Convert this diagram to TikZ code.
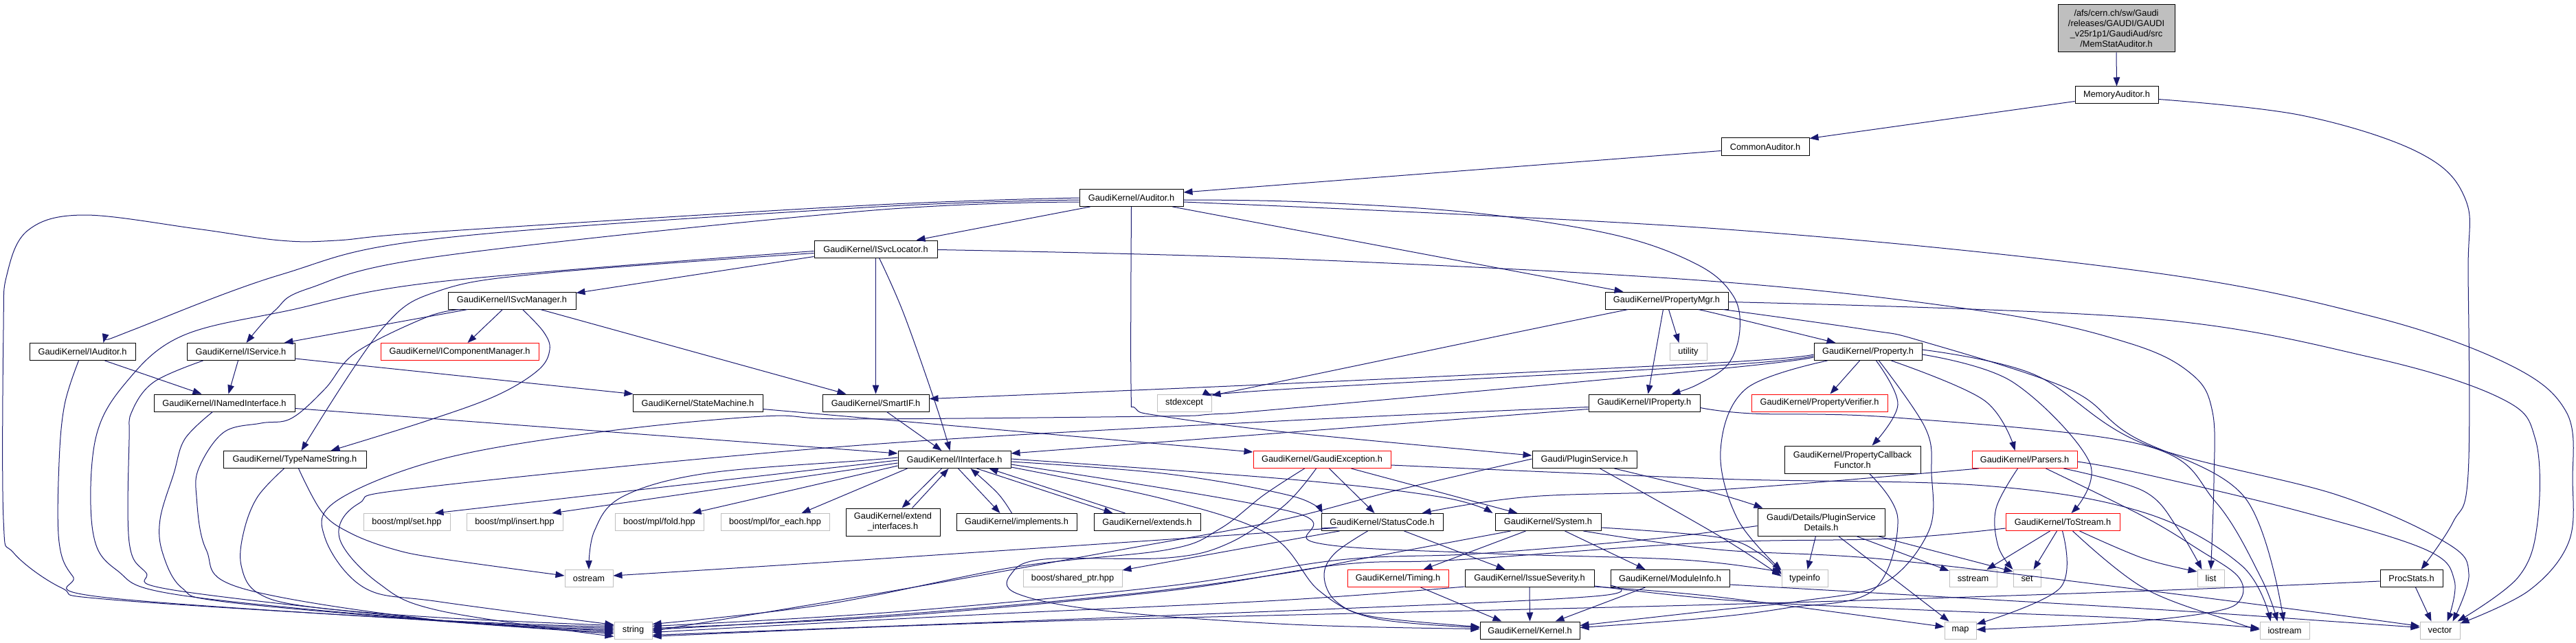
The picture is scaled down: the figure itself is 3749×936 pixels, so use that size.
\documentclass[tikz,border=0pt]{standalone}
\usepackage{fontspec}
\setmainfont{Liberation Sans}
\usetikzlibrary{arrows.meta}
\definecolor{edgec}{HTML}{191970}
\definecolor{grayb}{HTML}{BFBFBF}
\begin{document}
\begin{tikzpicture}[x=1pt,y=-1pt,
 nd/.style={draw=black,line width=1pt,fill=white,inner sep=0pt,minimum height=25pt,align=center,font=\fontsize{12.8pt}{15pt}\selectfont},
 sysn/.style={nd,draw=grayb},
 trn/.style={nd,draw=red},
 edg/.style={draw=edgec,line width=1pt,-{Triangle[length=13pt,width=9.5pt]}},
]
\fill[white] (0,0) rectangle (3749,936);
\useasboundingbox (0,0) rectangle (3749,936);
% ---------------- nodes ----------------
\node[nd,minimum width=170pt,minimum height=69pt,fill=grayb] (root) at (3080,41.5) {/afs/cern.ch/sw/Gaudi\\/releases/GAUDI/GAUDI\\\_v25r1p1/GaudiAud/src\\/MemStatAuditor.h};
\node[nd,minimum width=121pt] (MemA) at (3080.5,138.5) {MemoryAuditor.h};
\node[nd,minimum width=128pt] (ComA) at (2569,213.5) {CommonAuditor.h};
\node[nd,minimum width=151pt] (Aud) at (1646.5,288) {GaudiKernel/Auditor.h};
\node[nd,minimum width=179pt] (ISL) at (1274.5,362.5) {GaudiKernel/ISvcLocator.h};
\node[nd,minimum width=179pt] (PMgr) at (2425.5,437.5) {GaudiKernel/PropertyMgr.h};
\node[nd,minimum width=186pt] (ISM) at (745,437.5) {GaudiKernel/ISvcManager.h};
\node[nd,minimum width=154pt] (IAud) at (120,512) {GaudiKernel/IAuditor.h};
\node[nd,minimum width=157pt] (ISrv) at (350.5,512) {GaudiKernel/IService.h};
\node[trn,minimum width=230pt] (ICM) at (669,512) {GaudiKernel/IComponentManager.h};
\node[sysn,minimum width=54pt] (util) at (2457,512) {utility};
\node[nd,minimum width=157pt] (Prop) at (2718.5,512) {GaudiKernel/Property.h};
\node[nd,minimum width=205pt] (INI) at (326.5,586.5) {GaudiKernel/INamedInterface.h};
\node[nd,minimum width=189pt] (SM) at (1015.5,586.5) {GaudiKernel/StateMachine.h};
\node[nd,minimum width=155pt] (SIF) at (1274.5,586.5) {GaudiKernel/SmartIF.h};
\node[sysn,minimum width=79pt] (stdexc) at (1723.5,586.5) {stdexcept};
\node[nd,minimum width=162pt] (IProp) at (2393,586.5) {GaudiKernel/IProperty.h};
\node[trn,minimum width=198pt] (PVer) at (2648,586.5) {GaudiKernel/PropertyVerifier.h};
\node[nd,minimum width=208pt] (TNS) at (429,669) {GaudiKernel/TypeNameString.h};
\node[nd,minimum width=164pt] (IInt) at (1389,669) {GaudiKernel/IInterface.h};
\node[trn,minimum width=200pt] (GExc) at (1924,669) {GaudiKernel/GaudiException.h};
\node[nd,minimum width=152pt] (PSvc) at (2306,669) {Gaudi/PluginService.h};
\node[nd,minimum width=198pt,minimum height=40pt] (PCF) at (2696,669) {GaudiKernel/PropertyCallback\\Functor.h};
\node[trn,minimum width=153pt] (Pars) at (2946.5,669) {GaudiKernel/Parsers.h};
\node[sysn,minimum width=126pt] (bset) at (592,760) {boost/mpl/set.hpp};
\node[sysn,minimum width=140pt] (bins) at (749,760) {boost/mpl/insert.hpp};
\node[sysn,minimum width=129pt] (bfold) at (959.5,760) {boost/mpl/fold.hpp};
\node[sysn,minimum width=158pt] (bfe) at (1128,760) {boost/mpl/for\_each.hpp};
\node[nd,minimum width=137pt,minimum height=40pt] (extif) at (1299.5,760) {GaudiKernel/extend\\\_interfaces.h};
\node[nd,minimum width=175pt] (impl) at (1479.5,760) {GaudiKernel/implements.h};
\node[nd,minimum width=155pt] (exts) at (1669.5,760) {GaudiKernel/extends.h};
\node[nd,minimum width=177pt] (SC) at (2011.5,760) {GaudiKernel/StatusCode.h};
\node[nd,minimum width=154pt] (Sys) at (2253,760) {GaudiKernel/System.h};
\node[nd,minimum width=185pt,minimum height=40pt] (psd) at (2650.5,760) {Gaudi/Details/PluginService\\Details.h};
\node[trn,minimum width=166pt] (TS) at (3002,760) {GaudiKernel/ToStream.h};
\node[sysn,minimum width=70pt] (ostr) at (857,842) {ostream};
\node[sysn,minimum width=144pt] (bsh) at (1561,842) {boost/shared\_ptr.hpp};
\node[trn,minimum width=147pt] (Tim) at (2034.5,842) {GaudiKernel/Timing.h};
\node[nd,minimum width=188pt] (ISev) at (2226,842) {GaudiKernel/IssueSeverity.h};
\node[nd,minimum width=173pt] (MInfo) at (2430.5,842) {GaudiKernel/ModuleInfo.h};
\node[sysn,minimum width=67pt] (tinfo) at (2626.5,842) {typeinfo};
\node[sysn,minimum width=69pt] (sst) at (2871.5,842) {sstream};
\node[sysn,minimum width=40pt] (sset) at (2950,842) {set};
\node[sysn,minimum width=39pt] (lst) at (3217.5,842) {list};
\node[nd,minimum width=91pt] (PStat) at (3509.5,842) {ProcStats.h};
\node[sysn,minimum width=55pt] (str) at (921.5,917.5) {string};
\node[nd,minimum width=145pt] (Kern) at (2226.5,917.5) {GaudiKernel/Kernel.h};
\node[sysn,minimum width=46pt] (mp) at (2853,917.5) {map};
\node[sysn,minimum width=72pt] (ios) at (3325,917.5) {iostream};
\node[sysn,minimum width=58pt] (vec) at (3551,917.5) {vector};
% ---------------- edges ----------------
\draw[edg] (root.south) -- (MemA.north);
\draw[edg] ([yshift=-22]MemA.north west) -- ([yshift=-1]ComA.north east);
\draw[edg] plot[smooth,tension=0.6] coordinates {([yshift=-19]MemA.north east) (3350,168) (3520,222) (3588,290) (3592,400) (3592,690) (3570,760) ([xshift=60]PStat.north west)};
\draw[edg] ([yshift=-19]ComA.north west) -- ([yshift=-5]Aud.north east);
\draw[edg] ([xshift=16]Aud.south west) -- ([xshift=149]ISL.north west);
\draw[edg] ([xshift=136]Aud.south west) -- ([xshift=27]PMgr.north west);
\draw[edg] plot[smooth,tension=0.6] coordinates {([yshift=-16]Aud.north east) (1900,294) (2146,310) (2350,342) (2470,385) (2522,430) (2532,480) (2515,530) (2470,560) ([xshift=121]IProp.north west)};
\draw[edg] plot[smooth,tension=0.6] coordinates {([yshift=-19]Aud.north east) (2500,333) (3120,395) (3450,460) (3650,530) (3735,600) (3744,700) (3738,790) (3680,860) ([yshift=-3]vec.north east)};
\draw[edg] plot[smooth,tension=0.6] coordinates {(Aud.south) (1646,560) (1652,594) (1692,606) (1880,630) ([yshift=-7]PSvc.north west)};
\draw[edg] plot[smooth,tension=0.6] coordinates {([yshift=-16]Aud.north west) (1260,302) (640,347) (408,400) (194,480) ([xshift=108]IAud.north west)};
\draw[edg] plot[smooth,tension=0.6] coordinates {([yshift=-19]Aud.north west) (1260,307) (640,373) (449,420) (400,452) ([xshift=87]ISrv.north west)};
\draw[edg] plot[smooth,tension=0.6] coordinates {(Aud.west) (1260,299) (640,337) (490,350) (408,350) (286,333) (122,313) (41,335) (10,400) (5,480) (5,756) (20,805) (90,856) (163,873) (640,903) ([yshift=-8]str.north west)};
% ISvcLocator
\draw[edg] ([yshift=-24]ISL.north west) -- ([yshift=-2]ISM.north east);
\draw[edg] (ISL.south) -- (SIF.north);
\draw[edg] plot[smooth,tension=0.6] coordinates {([xshift=95]ISL.south west) (1315,456) (1362,589) ([xshift=76]IInt.north west)};
\draw[edg] plot[smooth,tension=0.6] coordinates {([yshift=-14]ISL.north east) (1880,377) (2500,410) (2900,455) (3100,500) (3190,545) (3220,600) (3222,700) (lst.north)};
\draw[edg] plot[smooth,tension=0.6] coordinates {([yshift=-16]ISL.north west) (640,410) (420,452) (265,489) (184,556) (139,639) (135,773) (170,830) (260,866) (640,903) ([yshift=-10]str.north west)};
\draw[edg] plot[smooth,tension=0.6] coordinates {([yshift=-19]ISL.north west) (800,397) (640,423) (555,480) ([xshift=114]TNS.north west)};
% ISvcManager
\draw[edg] ([xshift=29]ISM.south west) -- ([xshift=142]ISrv.north west);
\draw[edg] ([xshift=80]ISM.south west) -- ([xshift=127]ICM.north west);
\draw[edg] plot[smooth,tension=0.6] coordinates {([xshift=109]ISM.south west) (791,483) (800,509) (783,539) (722,576) (620,613) ([xshift=157]TNS.north west)};
\draw[edg] ([xshift=135]ISM.south west) -- ([xshift=35]SIF.north west);
\draw[edg] plot[smooth,tension=0.6] coordinates {([xshift=18]ISM.south west) (620,462) (518,513) (473,566) (424,609) (380,616) (326,629) (290,680) (286,723) (300,800) (351,856) (640,903) ([yshift=-12]str.north west)};
% IAuditor, IService, INamedInterface, TypeNameString
\draw[edg] ([xshift=110]IAud.south west) -- ([xshift=70]INI.north west);
\draw[edg] plot[smooth,tension=0.6] coordinates {([xshift=72]IAud.south west) (94,589) (86,673) (86,789) (106,839) (147,869) (640,904) ([yshift=-14]str.north west)};
\draw[edg] ([xshift=75]ISrv.south west) -- ([xshift=109]INI.north west);
\draw[edg] ([yshift=-23]ISrv.north east) -- ([xshift=1]SM.north west);
\draw[edg] plot[smooth,tension=0.6] coordinates {([xshift=24]ISrv.south west) (224,556) (192,599) (188,640) (188,789) (212,833) (253,859) (640,903) ([yshift=-16]str.north west)};
\draw[edg] ([yshift=-21]INI.north east) -- ([yshift=-4]IInt.north west);
\draw[edg] plot[smooth,tension=0.6] coordinates {([xshift=86]INI.south west) (269,639) (253,689) (233,756) (237,806) (265,856) (327,876) (640,904) ([yshift=-18]str.north west)};
\draw[edg] plot[smooth,tension=0.6] coordinates {([xshift=89]TNS.south west) (375,723) (355,773) (351,823) (375,863) (449,883) (640,899) ([yshift=-6]str.north west)};
\draw[edg] plot[smooth,tension=0.6] coordinates {([xshift=110]TNS.south west) (469,746) (510,776) (571,799) (640,813) ([yshift=-9]ostr.north west)};
% StateMachine, SmartIF
\draw[edg] ([yshift=-22]SM.north east) -- ([yshift=-2]GExc.north west);
\draw[edg] ([xshift=94]SIF.south west) -- ([xshift=64]IInt.north west);
% IInterface
\draw[edg] ([yshift=-14]IInt.north west) -- ([xshift=104]bset.north west);
\draw[edg] ([yshift=-18]IInt.north west) -- ([xshift=125]bins.north west);
\draw[edg] ([yshift=-22]IInt.north west) -- ([xshift=113]bfold.north west);
\draw[edg] ([xshift=14]IInt.south west) -- ([xshift=118]bfe.north west);
\draw[edg] plot[smooth,tension=0.6] coordinates {([yshift=-10]IInt.north west) (1260,670) (1028,689) (906,723) (865,773) (ostr.north)};
\draw[edg] ([xshift=64]IInt.south west) -- ([xshift=82]extif.north west);
\draw[edg] ([xshift=97]extif.north west) -- ([xshift=74]IInt.south west);
\draw[edg] ([xshift=88]IInt.south west) -- ([xshift=64]impl.north west);
\draw[edg] plot[smooth,tension=0.6] coordinates {([xshift=81]impl.north west) (1452,718) ([xshift=106]IInt.south west)};
\draw[edg] ([xshift=115]IInt.south west) -- ([xshift=28]exts.north west);
\draw[edg] ([xshift=46]exts.north west) -- ([xshift=133]IInt.south west);
\draw[edg] plot[smooth,tension=0.6] coordinates {([yshift=-16]IInt.north east) (1700,690) (1880,722) ([xshift=2]SC.north west)};
\draw[edg] plot[smooth,tension=0.6] coordinates {([yshift=-12]IInt.north east) (1880,698) (2100,724) ([xshift=-3]Sys.north west)};
\draw[edg] plot[smooth,tension=0.6] coordinates {([yshift=-24]IInt.north east) (1700,728) (1850,780) (1920,860) (2000,900) ([yshift=-9]Kern.north west)};
\draw[edg] plot[smooth,tension=0.6] coordinates {([yshift=-20]IInt.north east) (1880,745) (1915,790) (2150,805) (2450,815) ([yshift=-4]tinfo.north west)};
% GaudiException
\draw[edg] ([xshift=111]GExc.south west) -- ([xshift=78]SC.north west);
\draw[edg] ([xshift=143]GExc.south west) -- ([xshift=33]Sys.north west);
\draw[edg] plot[smooth,tension=0.6] coordinates {([xshift=75]GExc.south west) (1840,720) (1775,770) (1700,800) (1480,825) (1200,880) ([yshift=-4]str.north east)};
\draw[edg] plot[smooth,tension=0.6] coordinates {([xshift=92]GExc.south west) (1870,735) (1790,790) (1700,812) (1520,814) (1472,835) (1480,864) (1607,889) (1880,909) ([yshift=-11]Kern.north west)};
\draw[edg] plot[smooth,tension=0.6] coordinates {([yshift=-21]GExc.north east) (2500,697) (2888,707) (3120,746) (3262,823) ([xshift=16]ios.north west)};
% StatusCode
\draw[edg] ([xshift=121]SC.south west) -- ([xshift=59]ISev.north west);
\draw[edg] plot[smooth,tension=0.6] coordinates {([xshift=68]SC.south west) (1942,806) (1927,839) (1945,876) (2000,898) ([yshift=-8]Kern.north west)};
\draw[edg] plot[smooth,tension=0.6] coordinates {([yshift=-22]SC.north west) (1880,773) (1240,816) ([yshift=-9]ostr.north east)};
\draw[edg] plot[smooth,tension=0.6] coordinates {([xshift=27]SC.south west) (1860,789) ([yshift=-1]bsh.north east)};
% System
\draw[edg] ([xshift=45]Sys.south west) -- ([xshift=111]Tim.north west);
\draw[edg] ([xshift=102]Sys.south west) -- ([xshift=51]MInfo.north west);
\draw[edg] plot[smooth,tension=0.6] coordinates {([xshift=23]Sys.south west) (2000,810) (1860,836) (1640,865) (1300,895) ([yshift=-12]str.north east)};
\draw[edg] plot[smooth,tension=0.6] coordinates {([xshift=129]Sys.south west) (2500,800) (2741,814) (3120,859) (3400,895) ([yshift=-7]vec.north west)};
\draw[edg] plot[smooth,tension=0.6] coordinates {([yshift=-21]Sys.north east) (2500,782) (2560,805) ([yshift=-7]tinfo.north west)};
% Timing, IssueSeverity, ModuleInfo
\draw[edg] ([xshift=107]Tim.south west) -- ([xshift=32]Kern.north west);
\draw[edg] (ISev.south) -- (Kern.north);
\draw[edg] ([xshift=51]MInfo.south west) -- ([xshift=110]Kern.north west);
\draw[edg] plot[smooth,tension=0.6] coordinates {([yshift=-25]ISev.north west) (1860,874) (1400,896) ([yshift=-16]str.north east)};
\draw[edg] plot[smooth,tension=0.6] coordinates {([yshift=-25]ISev.north east) (2500,869) ([yshift=-8]mp.north west)};
\draw[edg] plot[smooth,tension=0.6] coordinates {([yshift=-24]ISev.north east) (2520,874) (2800,888) (3100,900) ([yshift=-10]ios.north west)};
\draw[edg] plot[smooth,tension=0.6] coordinates {([yshift=-22]MInfo.north east) (3120,886) (3400,905) ([yshift=-9]vec.north west)};
\draw[edg] plot[smooth,tension=0.6] coordinates {([yshift=-23]MInfo.north west) (2320,868) (1900,888) ([yshift=-20]str.north east)};
% ProcStats
\draw[edg] ([xshift=52]PStat.south west) -- ([xshift=17]vec.north west);
\draw[edg] plot[smooth,tension=0.6] coordinates {([yshift=-17]PStat.north west) (3100,861) (2500,880) (1500,905) ([yshift=-22]str.north east)};
% PropertyMgr
\draw[edg] ([xshift=93]PMgr.south west) -- ([xshift=14]util.north west);
\draw[edg] ([xshift=85]PMgr.south west) -- ([xshift=87]IProp.north west);
\draw[edg] plot[smooth,tension=0.6] coordinates {([xshift=136]PMgr.south west) (2500,457) (2594,480) ([xshift=32]Prop.north west)};
\draw[edg] plot[smooth,tension=0.6] coordinates {([xshift=34]PMgr.south west) (2225,480) (1860,556) ([yshift=-2]stdexc.north east)};
\draw[edg] plot[smooth,tension=0.6] coordinates {([yshift=-15]PMgr.north east) (3120,463) (3450,520) (3640,580) (3690,640) (3693,760) (3665,840) ([xshift=-4]vec.north east)};
\draw[edg] plot[smooth,tension=0.6] coordinates {([xshift=172]PMgr.south west) (2717,480) (2798,497) (3010,566) (3100,633) (3266,723) ([xshift=35]ios.north west)};
% Property
\draw[edg] ([xshift=67]Prop.south west) -- ([xshift=115]PVer.north west);
\draw[edg] plot[smooth,tension=0.6] coordinates {([xshift=91]Prop.south west) (2762,589) ([xshift=128]PCF.north west)};
\draw[edg] plot[smooth,tension=0.6] coordinates {([xshift=113]Prop.south west) (2888,583) ([xshift=63]Pars.north west)};
\draw[edg] plot[smooth,tension=0.6] coordinates {([yshift=-17]Prop.north east) (2929,556) (3041,673) ([xshift=96]TS.north west)};
\draw[edg] plot[smooth,tension=0.6] coordinates {([yshift=-17]Prop.north west) (2500,528) (1880,558) ([yshift=-7]SIF.north east)};
\draw[edg] plot[smooth,tension=0.6] coordinates {([yshift=-19]Prop.north west) (2500,532) (1880,566) ([yshift=-3]stdexc.north east)};
\draw[edg] plot[smooth,tension=0.6] coordinates {([yshift=-21]Prop.north west) (2500,537) (1880,594) (1763,603) (1684,606) (1240,610) (1110,606) (865,630) (640,669) (490,729) (473,783) (531,856) (640,876) ([yshift=-5]str.north west)};
\draw[edg] plot[smooth,tension=0.6] coordinates {([xshift=20]Prop.south west) (2541,566) (2504,656) (2529,756) ([yshift=-1]tinfo.north west)};
\draw[edg] plot[smooth,tension=0.6] coordinates {([xshift=95]Prop.south west) (2802,623) (2811,689) (2807,773) (2740,850) (2620,875) (2500,888) ([yshift=-6]Kern.north east)};
\draw[edg] plot[smooth,tension=0.6] coordinates {([yshift=-10]Prop.north east) (2960,545) (3120,646) (3400,720) (3560,790) (3593,836) ([xshift=48]vec.north west)};
\draw[edg] plot[smooth,tension=0.6] coordinates {([xshift=124]PCF.south west) (2762,756) (2725,860) (2600,885) (2480,900) ([yshift=-9]Kern.north east)};
% Parsers
\draw[edg] plot[smooth,tension=0.6] coordinates {([xshift=10]Pars.south west) (2500,713) (2227,723) ([xshift=147]SC.north west)};
\draw[edg] plot[smooth,tension=0.6] coordinates {([xshift=67]Pars.south west) (2905,740) (2908,795) (sset.north west)};
\draw[edg] plot[smooth,tension=0.6] coordinates {([xshift=134]Pars.south west) (3120,715) (3170,770) ([xshift=7]lst.north west)};
\draw[edg] plot[smooth,tension=0.6] coordinates {([yshift=-16]Pars.north east) (3120,690) (3350,745) (3530,800) (3572,845) ([xshift=40]vec.north west)};
\draw[edg] plot[smooth,tension=0.6] coordinates {([xshift=108]Pars.south west) (3120,752) (3200,800) (3257,839) (3261,872) (3224,890) (3100,905) ([yshift=-12]mp.north east)};
% ToStream
\draw[edg] ([xshift=65]TS.south west) -- ([xshift=55]sst.north west);
\draw[edg] ([xshift=75]TS.south west) -- ([xshift=30]sset.north west);
\draw[edg] plot[smooth,tension=0.6] coordinates {([xshift=83]TS.south west) (2998,856) ([yshift=-4]mp.north east)};
\draw[edg] plot[smooth,tension=0.6] coordinates {([xshift=108]TS.south west) (3120,813) ([yshift=-3]lst.north west)};
\draw[edg] plot[smooth,tension=0.6] coordinates {([xshift=98]TS.south west) (3120,856) (3250,905) ([yshift=-12]ios.north west)};
\draw[edg] plot[smooth,tension=0.6] coordinates {([yshift=-22]TS.north west) (2750,784) (2480,790) (2120,815) (1950,822) (1700,860) (1300,897) ([yshift=-10]str.north east)};
% PluginServiceDetails, PluginService
\draw[edg] ([xshift=85]psd.south west) -- ([xshift=38]tinfo.north west);
\draw[edg] ([xshift=144]psd.south west) -- ([yshift=-2]sst.north west);
\draw[edg] ([xshift=175]psd.south west) -- ([yshift=-3]sset.north west);
\draw[edg] ([xshift=118]psd.south west) -- ([xshift=7]mp.north west);
\draw[edg] plot[smooth,tension=0.6] coordinates {([yshift=-26]psd.north west) (2400,785) (2150,806) (1950,815) (1700,853) (1300,891) ([yshift=-7]str.north east)};
\draw[edg] plot[smooth,tension=0.6] coordinates {([xshift=120]PSvc.south west) (2500,719) ([xshift=8]psd.north west)};
\draw[edg] plot[smooth,tension=0.6] coordinates {([xshift=99]PSvc.south west) (2500,779) ([yshift=-10]tinfo.north west)};
\draw[edg] plot[smooth,tension=0.6] coordinates {([yshift=-12]PSvc.north west) (2035,713) (1860,758) (1633,800) (1300,860) ([yshift=-14]str.north east)};
% IProperty
\draw[edg] plot[smooth,tension=0.6] coordinates {([yshift=-22]IProp.north west) (1880,629) ([yshift=-4]IInt.north east)};
\draw[edg] plot[smooth,tension=0.6] coordinates {([yshift=-19]IProp.north west) (1860,613) (1240,649) (620,709) (522,733) (494,783) (551,849) (640,889) ([yshift=-22]str.north west)};
\draw[edg] plot[smooth,tension=0.6] coordinates {([yshift=-20]IProp.north east) (2550,602) (2760,608) (3120,648) (3224,730) (3290,840) ([xshift=26]ios.north west)};
\end{tikzpicture}
\end{document}
